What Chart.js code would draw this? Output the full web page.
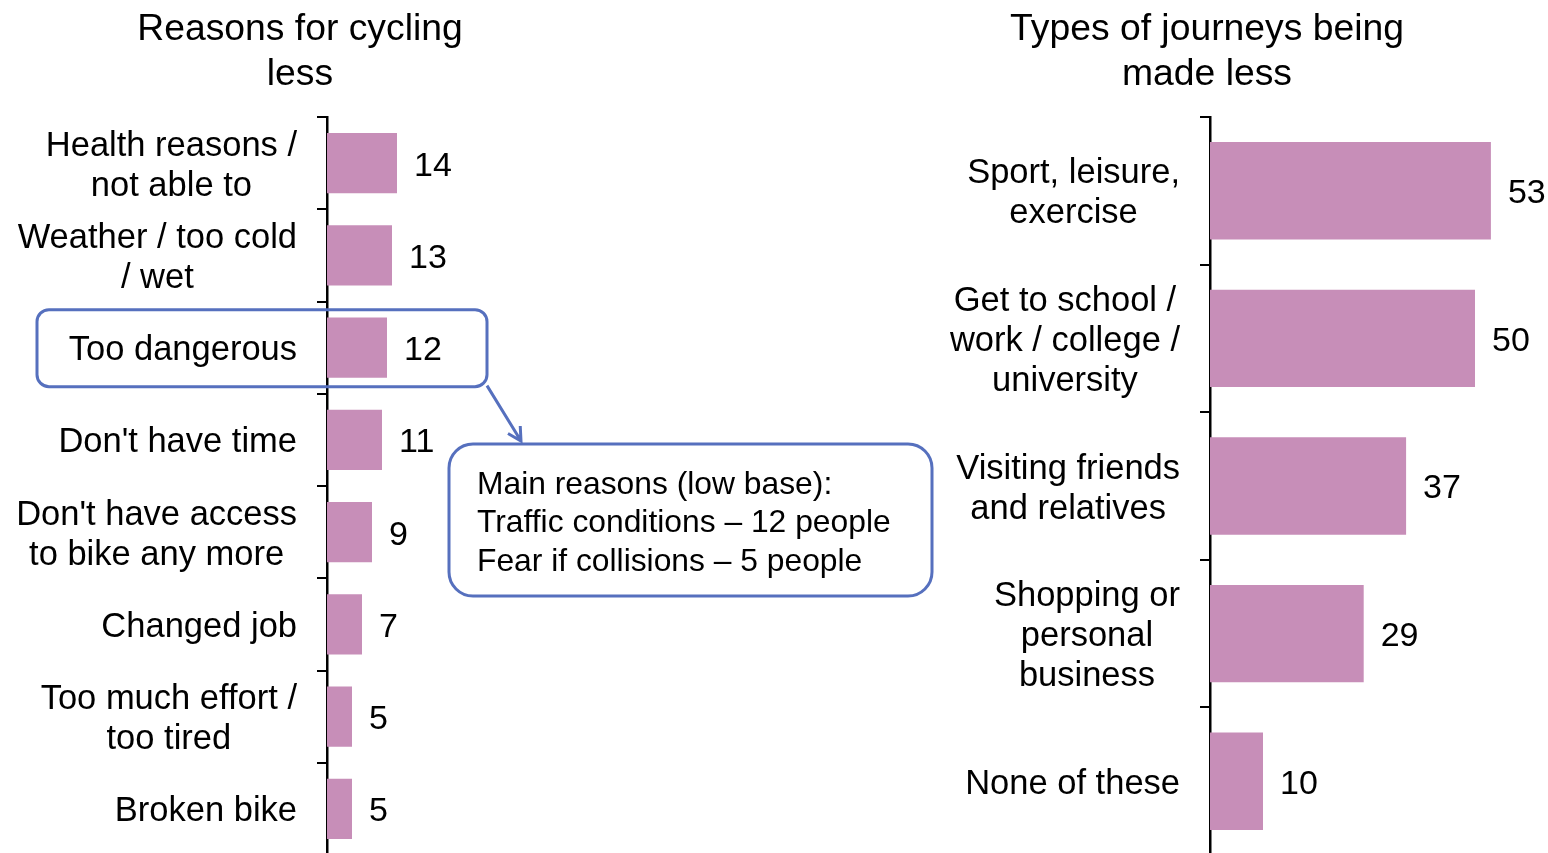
<!DOCTYPE html>
<html>
<head>
<meta charset="utf-8">
<script src="https://cdn.jsdelivr.net/npm/chart.js@4/dist/chart.umd.min.js"></script>
<style>
  html, body { margin: 0; padding: 0; background: #fff; }
  #wrap { position: relative; width: 1548px; height: 853px; overflow: hidden; }
  canvas { position: absolute; top: 0; }
  #leftChart { left: 0; }
  #rightChart { left: 940px; }
</style>
</head>
<body>
<div id="wrap">
  <canvas id="leftChart" width="940" height="855"></canvas>
  <canvas id="rightChart" width="608" height="855"></canvas>
</div>
<script>
// data
const reasonLabels = [
    ['Health reasons /', 'not able to'],
    ['Weather / too cold', '/ wet'],
    ['Too dangerous'],
    ["Don't have time"],
    ["Don't have access", 'to bike any more'],
    ['Changed job'],
    ['Too much effort /', 'too tired'],
    ['Broken bike']
];
const reasonValues = [14, 13, 12, 11, 9, 7, 5, 5];

const journeyLabels = [
    ['Sport, leisure,', 'exercise'],
    ['Get to school /', 'work / college /', 'university'],
    ['Visiting friends', 'and relatives'],
    ['Shopping or', 'personal', 'business'],
    ['None of these']
];
const journeyValues = [53, 50, 37, 29, 10];

const leftTitle = ['Reasons for cycling', 'less'];
const rightTitle = ['Types of journeys being', 'made less'];

const calloutLines = [
    'Main reasons (low base):',
    'Traffic conditions \u2013 12 people',
    'Fear if collisions \u2013 5 people'
];

const FONT = '"Liberation Sans", Arial, Helvetica, sans-serif';
const BAR_COLOR = '#C78EB8';
const BOX_COLOR = '#5670BE';

// 类别标签、数值和标题的绘制插件
function labelPlugin(labels, title, titleX) {
    return {
        id: 'customLabels',
        afterDraw(chart) {
            const ctx = chart.ctx;
            const yScale = chart.scales.y;
            const meta = chart.getDatasetMeta(0);
            ctx.save();
            ctx.fillStyle = '#000';
            ctx.textBaseline = 'middle';

            // 类别标签：居中多行，整体右对齐
            ctx.font = '34.5px ' + FONT;
            const lh = 40;
            const rightEdge = yScale.right - 30;
            labels.forEach((lines, i) => {
                const cy = yScale.getPixelForValue(i) + 3;
                const w = Math.max(...lines.map(l => ctx.measureText(l).width));
                const cx = rightEdge - w / 2;
                ctx.textAlign = 'center';
                lines.forEach((line, j) => {
                    ctx.fillText(line, cx, cy + (j - (lines.length - 1) / 2) * lh);
                });
            });

            // 数值标签
            ctx.font = '34px ' + FONT;
            ctx.textAlign = 'left';
            meta.data.forEach((bar, i) => {
                ctx.fillText(String(chart.data.datasets[0].data[i]), bar.x + 17, bar.y + 3);
            });

            // 标题
            ctx.font = '37.3px ' + FONT;
            ctx.textAlign = 'center';
            title.forEach((line, j) => {
                ctx.fillText(line, titleX, 30 + j * 45);
            });
            ctx.restore();
        }
    };
}

function roundRect(ctx, x, y, w, h, r) {
    ctx.beginPath();
    ctx.moveTo(x + r, y);
    ctx.lineTo(x + w - r, y);
    ctx.arcTo(x + w, y, x + w, y + r, r);
    ctx.lineTo(x + w, y + h - r);
    ctx.arcTo(x + w, y + h, x + w - r, y + h, r);
    ctx.lineTo(x + r, y + h);
    ctx.arcTo(x, y + h, x, y + h - r, r);
    ctx.lineTo(x, y + r);
    ctx.arcTo(x, y, x + r, y, r);
    ctx.closePath();
}

// 标注框
const calloutPlugin = {
    id: 'callout',
    afterDraw(chart) {
        const ctx = chart.ctx;
        const cy = chart.scales.y.getPixelForValue(2);
        ctx.save();
        ctx.strokeStyle = BOX_COLOR;
        ctx.lineWidth = 3;

        // "Too dangerous" 周围的框
        roundRect(ctx, 37, cy - 38, 450, 77, 12);
        ctx.stroke();

        // 箭头
        const x1 = 487, y1 = cy + 38, x2 = 521, y2 = 441;
        ctx.beginPath();
        ctx.moveTo(x1, y1);
        ctx.lineTo(x2, y2);
        const ang = Math.atan2(y2 - y1, x2 - x1);
        const hl = 15;
        ctx.moveTo(x2 - hl * Math.cos(ang - 0.5), y2 - hl * Math.sin(ang - 0.5));
        ctx.lineTo(x2, y2);
        ctx.lineTo(x2 - hl * Math.cos(ang + 0.5), y2 - hl * Math.sin(ang + 0.5));
        ctx.stroke();

        // 说明框
        ctx.fillStyle = '#fff';
        roundRect(ctx, 449, 444, 483, 152, 24);
        ctx.fill();
        ctx.stroke();

        ctx.fillStyle = '#000';
        ctx.font = '31.8px ' + FONT;
        ctx.textAlign = 'left';
        ctx.textBaseline = 'middle';
        calloutLines.forEach((line, j) => {
            ctx.fillText(line, 477, 485 + j * 38.5);
        });
        ctx.restore();
    }
};

function makeConfig(labels, values, axisWidth, xMax, barPct, plugins) {
    return {
        type: 'bar',
        data: {
            labels: labels.map(l => l.join(' ')),
            datasets: [{
                data: values,
                backgroundColor: BAR_COLOR,
                borderWidth: 0,
                categoryPercentage: 1,
                barPercentage: barPct
            }]
        },
        options: {
            indexAxis: 'y',
            responsive: false,
            animation: false,
            devicePixelRatio: 1,
            layout: { padding: { top: 117, right: 0, bottom: 0, left: 0 } },
            plugins: {
                legend: { display: false },
                tooltip: { enabled: false },
                title: { display: false }
            },
            scales: {
                x: {
                    display: false,
                    min: 0,
                    max: xMax
                },
                y: {
                    ticks: { display: false },
                    grid: {
                        display: true,
                        drawOnChartArea: false,
                        drawTicks: true,
                        tickLength: 10,
                        offset: true,
                        color: '#000',
                        lineWidth: 2
                    },
                    border: { display: true, color: '#000', width: 2.5 },
                    afterFit(scale) { scale.width = axisWidth; }
                }
            }
        },
        plugins: plugins
    };
}

new Chart(document.getElementById('leftChart'),
    makeConfig(reasonLabels, reasonValues, 327, 613 / 5, 0.655,
        [labelPlugin(reasonLabels, leftTitle, 300), calloutPlugin]));

new Chart(document.getElementById('rightChart'),
    makeConfig(journeyLabels, journeyValues, 270, 338 / 5.3, 0.66,
        [labelPlugin(journeyLabels, rightTitle, 267)]));
</script>
</body>
</html>
